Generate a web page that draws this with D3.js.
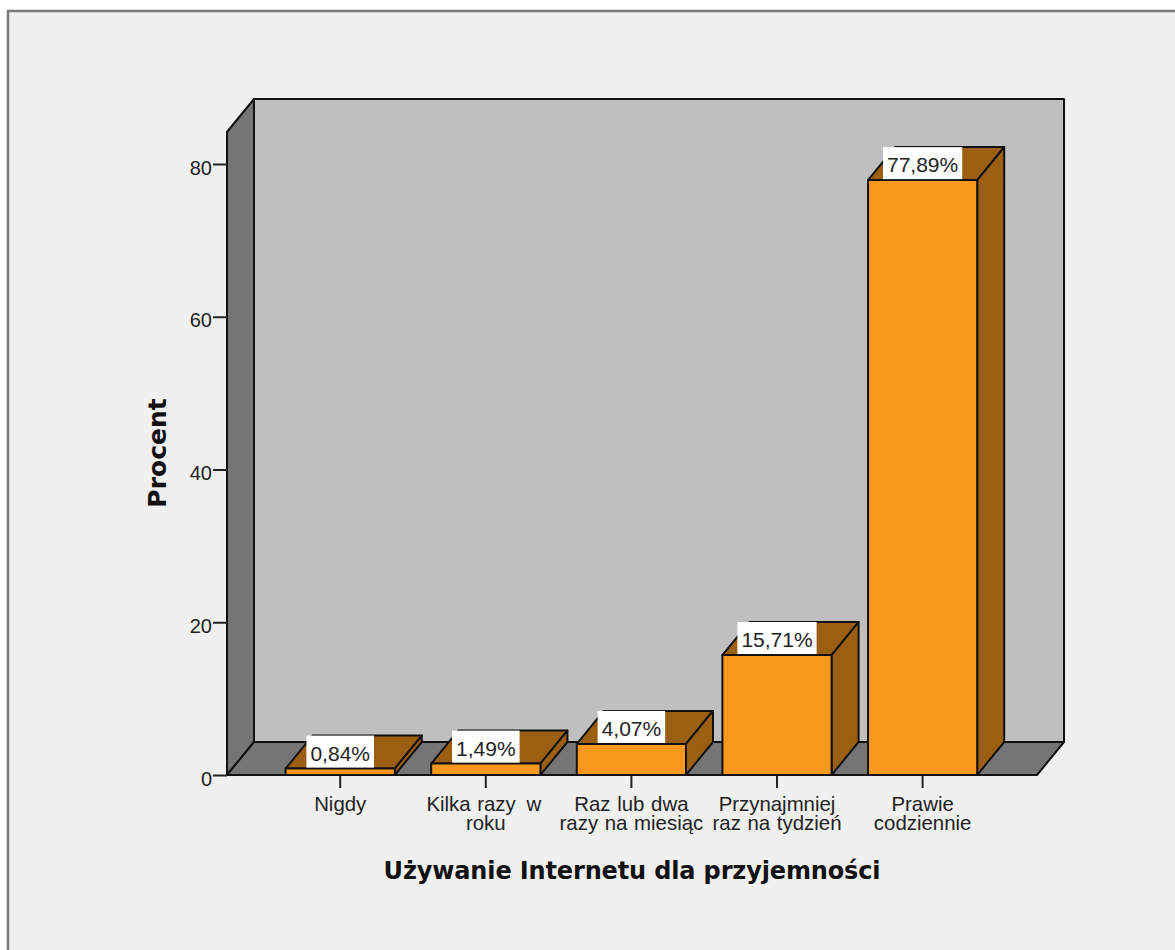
<!DOCTYPE html>
<html>
<head>
<meta charset="utf-8">
<script src="https://cdn.jsdelivr.net/npm/d3@7"></script>
<style>
  html, body { margin: 0; padding: 0; background: #fff; }
  svg { display: block; }
  text { font-family: "Liberation Sans", Arial, sans-serif; fill: #222; }
</style>
</head>
<body>
<div id="chart"></div>
<script>
var w = 1175,
    h = 950;

var categories = ["Nigdy", "Kilka razy w roku", "Raz lub dwa razy na miesiąc", "Przynajmniej raz na tydzień", "Prawie codziennie"];
var categoryLines = [["Nigdy"], ["Kilka razy\u2009 w", "roku"], ["Raz lub dwa", "razy na miesiąc"], ["Przynajmniej", "raz na tydzień"], ["Prawie", "codziennie"]];
var percents = [0.84, 1.49, 4.07, 15.71, 77.89];
var percentLabels = ["0,84%", "1,49%", "4,07%", "15,71%", "77,89%"];
var yTicks = [0, 20, 40, 60, 80];

// depth of the fake 3d box
var dx = 27,
    dy = -33;

var x = d3.scaleBand().domain(categories).range([267.4, 995.4]).paddingInner(0.25).paddingOuter(0.125);
var y = d3.scaleLinear().domain([0, 80]).range([775, 164]);

var left = 227,
    right = 1037,
    bottom = y(0),
    top3d = 132;

var line = "#111";

var svg = d3.select("#chart").append("svg")
    .attr("width", w)
    .attr("height", h);

// panel
svg.append("rect")
    .attr("x", 8).attr("y", 11)
    .attr("width", w + 20).attr("height", h + 20)
    .attr("fill", "#f0f0f0")
    .attr("stroke", "#7a7a7a")
    .attr("stroke-width", 2.5);

function poly(points, fill, parent) {
  return (parent || svg).append("polygon")
      .attr("points", points.map(function(p) { return p.join(","); }).join(" "))
      .attr("fill", fill)
      .attr("stroke", line)
      .attr("stroke-width", 2)
      .attr("stroke-linejoin", "round");
}

// back wall, side wall, floor
poly([[left + dx, top3d + dy], [right + dx, top3d + dy], [right + dx, bottom + dy], [left + dx, bottom + dy]], "#bfbfbf");
poly([[left, top3d], [left + dx, top3d + dy], [left + dx, bottom + dy], [left, bottom]], "#757575");
poly([[left, bottom], [left + dx, bottom + dy], [right + dx, bottom + dy], [right, bottom]], "#757575");

// axes
var yAxis = d3.axisLeft(y).tickValues(yTicks).tickSize(14).tickPadding(1);
var xAxis = d3.axisBottom(x).tickSize(13).tickFormat("");

var yG = svg.append("g").attr("transform", "translate(" + left + ",0)").call(yAxis);
yG.select(".domain").remove();
yG.selectAll("line").attr("stroke", "#222").attr("stroke-width", 2);
yG.selectAll("text").attr("font-size", 20).attr("font-family", null).attr("dy", "0.5em");

var xG = svg.append("g").attr("transform", "translate(0," + bottom + ")").call(xAxis);
xG.select(".domain").remove();
xG.selectAll("line").attr("stroke", "#222").attr("stroke-width", 2);

xG.selectAll(".tick text")
    .attr("font-size", 20.4)
    .attr("font-family", null)
    .attr("word-spacing", 1)
    .attr("y", 0)
    .attr("dy", null)
    .each(function(d, i) {
      var t = d3.select(this);
      categoryLines[i].forEach(function(s, j) {
        t.append("tspan").attr("x", j == 0 && i == 1 ? -2 : 0).attr("y", 36 + j * 19).text(s);
      });
    });

// bars
var bars = svg.selectAll("g.bar").data(categories).enter().append("g").attr("class", "bar");

bars.each(function(d, i) {
  var g = d3.select(this),
      x0 = x(d),
      x1 = x0 + x.bandwidth(),
      yt = y(percents[i]);
  poly([[x0, yt], [x0 + dx, yt + dy], [x1 + dx, yt + dy], [x1, yt]], "#9a5f10", g);
  poly([[x1, yt], [x1 + dx, yt + dy], [x1 + dx, bottom + dy], [x1, bottom]], "#9a5f10", g);
  poly([[x0, yt], [x1, yt], [x1, bottom], [x0, bottom]], "#fa981e", g);
});

// value labels
var labels = svg.selectAll("g.label").data(categories).enter().append("g").attr("class", "label")
    .attr("transform", function(d, i) {
      return "translate(" + (x(d) + x.bandwidth() / 2) + "," + y(percents[i]) + ")";
    });

labels.append("text")
    .attr("text-anchor", "middle")
    .attr("font-size", 21)
    .attr("y", -8)
    .text(function(d, i) { return percentLabels[i]; });

labels.insert("rect", "text")
    .attr("fill", "#fff")
    .each(function() {
      var b = this.parentNode.querySelector("text").getBBox();
      d3.select(this)
        .attr("x", b.x - 4)
        .attr("y", -33)
        .attr("width", b.width + 8)
        .attr("height", 32);
    });

// titles
svg.append("text")
    .attr("x", 632)
    .attr("y", 879)
    .attr("text-anchor", "middle")
    .attr("font-size", 24)
    .attr("letter-spacing", -0.14)
    .attr("font-weight", "bold")
    .style("font-family", "'DejaVu Sans', sans-serif")
    .style("fill", "#111")
    .text("Używanie Internetu dla przyjemności");

svg.append("text")
    .attr("transform", "translate(166,453) rotate(-90)")
    .attr("text-anchor", "middle")
    .attr("font-size", 25)
    .attr("font-weight", "bold")
    .style("font-family", "'DejaVu Sans', sans-serif")
    .style("fill", "#111")
    .text("Procent");
</script>
</body>
</html>
